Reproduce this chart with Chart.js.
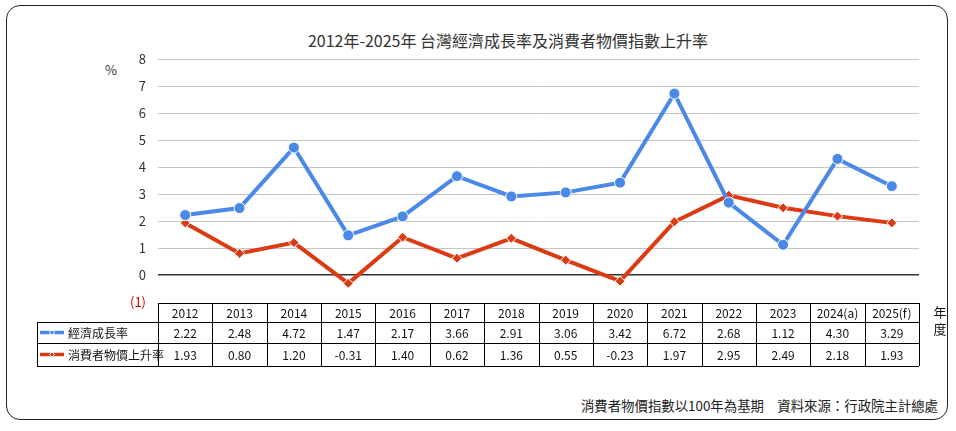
<!DOCTYPE html>
<html><head><meta charset="utf-8">
<script src="https://cdn.jsdelivr.net/npm/chart.js@4/dist/chart.umd.min.js"></script>
<style>
html,body{margin:0;padding:0;background:#fff;}
#wrap{position:relative;width:956px;height:431px;overflow:hidden;font-family:"Noto Sans CJK TC","Noto Sans",sans-serif;}
#frame{position:absolute;left:6px;top:5px;width:942px;height:415px;border:1.5px solid #222;border-radius:14px;box-sizing:border-box;}
#title{position:absolute;left:0;width:1016px;top:28px;text-align:center;font-size:16px;color:#333;}
#pct{position:absolute;left:105px;top:60px;font-size:13px;color:#333;}
#foot{position:absolute;right:18px;top:395px;font-size:13.4px;color:#222;}
canvas{position:absolute;left:0;top:0;}
</style></head>
<body><div id="wrap">
<div id="frame"></div>
<div id="title">2012年-2025年 台灣經濟成長率及消費者物價指數上升率</div>
<div id="pct">%</div>
<div id="foot">消費者物價指數以100年為基期　資料來源：行政院主計總處</div>
<canvas id="c" width="956" height="431"></canvas>
</div>
<script>
const years = ["2012","2013","2014","2015","2016","2017","2018","2019","2020","2021","2022","2023","2024(a)","2025(f)"];
const gdpName = "經濟成長率";
const cpiName = "消費者物價上升率";
const gdp = [2.22,2.48,4.72,1.47,2.17,3.66,2.91,3.06,3.42,6.72,2.68,1.12,4.30,3.29];
const cpi = [1.93,0.80,1.20,-0.31,1.40,0.62,1.36,0.55,-0.23,1.97,2.95,2.49,2.18,1.93];
const yearAxisLabel = ["年","度"];

const BLUE = "#4a89e8", RED = "#dc3a12";
const FONT = '"Noto Sans CJK TC","Noto Sans",sans-serif';

const tablePlugin = {
  id: "dataTable",
  afterDraw(chart) {
    const ctx = chart.ctx, x = chart.scales.x, ca = chart.chartArea;
    const n = years.length;
    const cw = (ca.right - ca.left) / n;
    const top = ca.bottom + 1, r1 = top + 19, r2 = r1 + 21, r3 = r2 + 23;
    const labelLeft = 37;
    ctx.save();
    ctx.strokeStyle = "#000"; ctx.lineWidth = 1;
    const h = (y, x0, x1) => { ctx.beginPath(); ctx.moveTo(x0, Math.round(y)+0.5); ctx.lineTo(x1, Math.round(y)+0.5); ctx.stroke(); };
    const v = (xx, y0, y1) => { ctx.beginPath(); ctx.moveTo(Math.round(xx)+0.5, y0); ctx.lineTo(Math.round(xx)+0.5, y1); ctx.stroke(); };
    h(top, ca.left, ca.right);
    h(r1, labelLeft, ca.right);
    h(r2, labelLeft, ca.right);
    h(r3, labelLeft, ca.right);
    v(labelLeft, r1, r3);
    for (let i = 0; i <= n; i++) v(ca.left + i * cw, top, r3);
    ctx.font = "12px " + FONT; ctx.fillStyle = "#111";
    ctx.textAlign = "center"; ctx.textBaseline = "middle";
    for (let i = 0; i < n; i++) {
      const cx = x.getPixelForValue(i);
      ctx.fillText(years[i], cx, (top + r1) / 2 + 1);
      ctx.fillText(gdp[i].toFixed(2), cx, (r1 + r2) / 2 + 1);
      ctx.fillText(cpi[i].toFixed(2), cx, (r2 + r3) / 2 + 1);
    }
    const key = (y, col, rot) => {
      ctx.strokeStyle = col; ctx.lineWidth = 3.5;
      ctx.beginPath(); ctx.moveTo(40, y); ctx.lineTo(64, y); ctx.stroke();
      ctx.fillStyle = col; ctx.strokeStyle = "#fff"; ctx.lineWidth = 1;
      ctx.beginPath();
      if (rot) { ctx.moveTo(52, y-2.5); ctx.lineTo(54.5, y); ctx.lineTo(52, y+2.5); ctx.lineTo(49.5, y); ctx.closePath(); }
      else ctx.arc(52, y, 2.2, 0, Math.PI*2);
      ctx.fill(); ctx.stroke();
    };
    key((r1 + r2) / 2, BLUE, false);
    key((r2 + r3) / 2, RED, true);
    ctx.fillStyle = "#111"; ctx.textAlign = "left"; ctx.font = "12px " + FONT;
    ctx.fillText(gdpName, 68, (r1 + r2) / 2 + 1);
    ctx.fillText(cpiName, 68, (r2 + r3) / 2 + 1);
    ctx.textAlign = "center"; ctx.font = "13px " + FONT;
    ctx.fillText(yearAxisLabel[0], 940, 312);
    ctx.fillText(yearAxisLabel[1], 940, 329);
    ctx.restore();
  }
};

new Chart(document.getElementById("c"), {
  type: "line",
  data: {
    labels: years,
    datasets: [
      { label: gdpName, data: gdp, borderColor: BLUE, backgroundColor: BLUE, borderWidth: 4,
        pointStyle: "circle", pointRadius: 5.5, pointBorderColor: "#fff", pointBorderWidth: 1, tension: 0 },
      { label: cpiName, data: cpi, borderColor: RED, backgroundColor: RED, borderWidth: 4,
        pointStyle: "rectRot", pointRadius: 5, pointBorderColor: "#fff", pointBorderWidth: 1, tension: 0 }
    ]
  },
  options: {
    responsive: false, animation: false, devicePixelRatio: 1,
    layout: { padding: { left: 0, top: 59, right: 37, bottom: 129 } },
    plugins: { legend: { display: false }, title: { display: false }, tooltip: { enabled: false } },
    scales: {
      x: { display: false, offset: true },
      y: {
        min: -1, max: 8,
        afterFit(s) { s.width = 158; },
        border: { display: false },
        grid: {
          drawTicks: false,
          color: c => c.tick.value === 0 ? "#333" : (c.tick.value === -1 ? "rgba(0,0,0,0)" : "#c4c4c4"),
          lineWidth: c => c.tick.value === 0 ? 1.5 : 1
        },
        ticks: {
          stepSize: 1, padding: 12,
          font: { size: 13, family: FONT },
          color: c => c.tick.value < 0 ? "#e00000" : "#333",
          callback: val => val < 0 ? "(" + (-val) + ")" : String(val)
        }
      }
    }
  },
  plugins: [tablePlugin]
});
</script>
</body></html>
